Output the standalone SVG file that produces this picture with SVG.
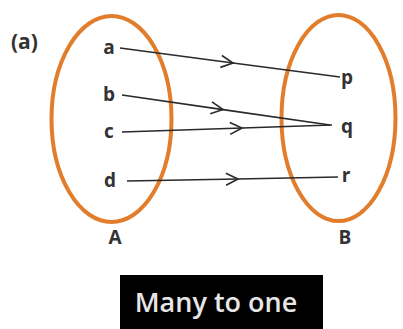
<svg xmlns="http://www.w3.org/2000/svg" width="403" height="329" viewBox="0 0 403 329">
<style>
.set{fill:none;stroke:#E27D2C;stroke-width:4}
.lbl{font-family:"Open Sans","Liberation Sans",sans-serif;font-weight:bold;font-size:19px;fill:#333;text-anchor:middle}
.conn{fill:none;stroke:#2a2a2a;stroke-width:1.6;marker-mid:url(#chev)}
.cap{font-family:"Open Sans","Liberation Sans",sans-serif;font-weight:600;font-size:27px;fill:#e6e6e6;text-anchor:middle}
</style>
<defs>
<marker id="chev" markerUnits="userSpaceOnUse" viewBox="-13 -8 15 16" refX="0" refY="0" markerWidth="15" markerHeight="16" orient="auto">
<path d="M-12,-6 L0,0 L-12,6" fill="none" stroke="#2a2a2a" stroke-width="1.6"/>
</marker>
</defs>
<text x="11" y="49" class="lbl" style="text-anchor:start;font-size:21px">(a)</text>
<g id="setA">
<ellipse class="set" cx="111.5" cy="119" rx="60" ry="103"/>
<text class="lbl" x="115" y="244">A</text>
</g>
<g id="setB">
<ellipse class="set" cx="338.5" cy="118" rx="57" ry="103"/>
<text class="lbl" x="345" y="244">B</text>
</g>
<g id="a"><text class="lbl" x="109" y="54">a</text></g>
<g id="b"><text class="lbl" x="109" y="101">b</text></g>
<g id="c"><text class="lbl" x="109" y="138">c</text></g>
<g id="d"><text class="lbl" x="110" y="187">d</text></g>
<g id="p"><text class="lbl" x="347" y="84">p</text></g>
<g id="q"><text class="lbl" x="347" y="133">q</text></g>
<g id="r"><text class="lbl" x="346" y="182">r</text></g>
<g id="connectors">
<path class="conn" d="M120,48 L233,63 L340,77"/>
<path class="conn" d="M122,95 L223,109.6 L330,125"/>
<path class="conn" d="M122,132 L242,128 L332,125"/>
<path class="conn" d="M127,181 L238,179 L338,177"/>
</g>
<g id="caption">
<rect x="120" y="275" width="203" height="54" fill="#000"/>
<text class="cap" x="216" y="312">Many to one</text>
</g>
</svg>
